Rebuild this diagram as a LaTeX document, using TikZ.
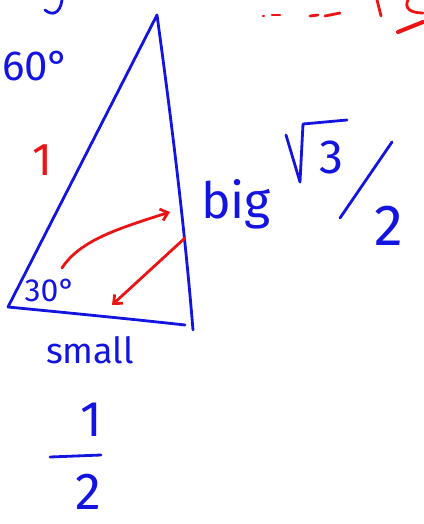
\documentclass[tikz,border=0pt]{standalone}
\usepackage{fontspec}
\setmainfont{Fira Sans}
\usetikzlibrary{arrows.meta,positioning,calc}
\definecolor{penblue}{RGB}{20,20,225}
\definecolor{penred}{RGB}{235,20,20}

\begin{document}
\begin{tikzpicture}[x=1pt, y=-1pt,
    stroke/.style={penblue, line width=2.8pt, line cap=round, line join=round},
    redstroke/.style={penred, line width=2.8pt, line cap=round, line join=round},
    hand/.style={penblue, inner sep=0pt, font=\fontsize{#1}{#1}\selectfont},
    hand/.default=40,
    redhand/.style={hand=#1, text=penred},
]
    \useasboundingbox (0,0) rectangle (423,524);
    % Triangle corners
    \coordinate (apex) at (157,15);
    \coordinate (bl) at (8,307);
    \coordinate (br) at (185,325);
    \coordinate (brtop) at (193,330);
    \draw[stroke] (bl) -- (apex) .. controls (170,110) and (184,220) .. (brtop);
    \draw[stroke] (bl) .. controls (80,314) and (140,320) .. (br);
    % Side and angle labels
    \node[hand=42] (ang60) at (36,66) {60°};
    \node[redhand=46] (one) at (42,160) {1};
    \node[hand=50] (big) at (236,204) {big};
    \node[hand=32] (ang30) at (50,290) {30°};
    \node[hand=36] (small) at (90,350) {small};
    % Long side over two
    \coordinate (rootstart) at (286,135);
    \coordinate (rootbottom) at (300,182);
    \coordinate (roottop) at (303,124);
    \coordinate (rootend) at (347,120);
    \draw[stroke] (rootstart) -- (rootbottom) -- (roottop) -- (rootend);
    \node[hand=48] (three) at (331,157) {3};
    \coordinate (slashtop) at (392,142);
    \coordinate (slashbottom) at (340,218);
    \draw[stroke] (slashtop) -- (slashbottom);
    \node[hand=58] (twoa) at (389,226) {2};
    % Short side over two
    \node[hand=50] (onen) at (91,420) {1};
    \coordinate (barleft) at (50,457);
    \coordinate (barright) at (101,455);
    \draw[stroke] (barleft) -- (barright);
    \node[hand=52] (twob) at (88,492) {2};
    % Red arrows inside the triangle
    \coordinate (smallend) at (62,268);
    \coordinate (bigend) at (170,212);
    \coordinate (bigstart) at (185,238);
    \coordinate (smallstart) at (112,305);
    \draw[redstroke, -{Straight Barb[length=7pt,width=12pt]}] (smallend) .. controls (80,240) and (120,228) .. (bigend);
    \draw[redstroke, -{Straight Barb[length=7pt,width=12pt]}] (bigstart) -- (smallstart);
    % Cut-off marks at the top
    \coordinate (jtop) at (62,0);
    \coordinate (jend) at (45,10);
    \draw[stroke] (jtop) .. controls (60,14) and (52,16) .. (jend);
    \coordinate (d1) at (263,16);
    \coordinate (d2) at (272,15);
    \coordinate (d3) at (280,15);
    \coordinate (d4) at (310,16);
    \coordinate (d5) at (318,15);
    \coordinate (d6) at (325,16);
    \coordinate (d7) at (340,13);
    \draw[redstroke] (d1) -- ++(1,0);
    \draw[redstroke] (d2) -- (d3);
    \draw[redstroke] (d4) -- (d5);
    \draw[redstroke] (d6) -- (d7);
    \coordinate (ptop) at (377,0);
    \coordinate (pend) at (381,16);
    \draw[redstroke] (ptop) -- (pend);
    \coordinate (ctop) at (408,0);
    \coordinate (cend) at (423,13);
    \draw[redstroke] (ctop) .. controls (404,8) and (410,13) .. (cend);
    \coordinate (smear) at (398,32);
    \coordinate (smearend) at (423,22);
    \draw[redstroke, line width=4pt] (smear) -- (smearend);
\end{tikzpicture}
\end{document}
